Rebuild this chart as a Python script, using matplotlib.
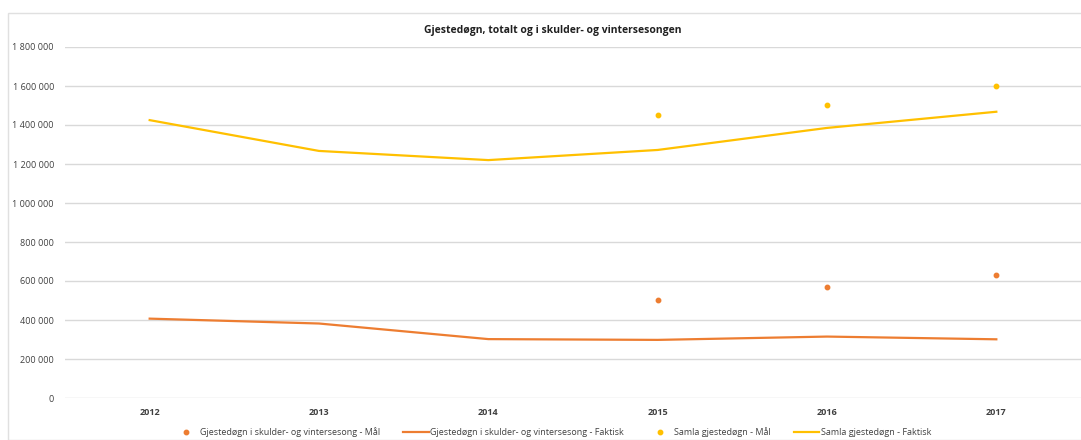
import matplotlib
matplotlib.use("Agg")
import matplotlib.pyplot as plt
from matplotlib.lines import Line2D
from matplotlib.patches import Rectangle
from matplotlib.ticker import FuncFormatter

years = ["2012", "2013", "2014", "2015", "2016", "2017"]
skulder_faktisk = [407000, 382000, 302000, 298000, 315000, 301000]
skulder_maal = [None, None, None, 505000, 568000, 632000]
samla_faktisk = [1425000, 1267000, 1220000, 1272000, 1385000, 1468000]
samla_maal = [None, None, None, 1450000, 1500000, 1600000]
yticks = [0, 200000, 400000, 600000, 800000, 1000000, 1200000, 1400000, 1600000, 1800000]

title = "Gjestedøgn, totalt og i skulder- og vintersesongen"
labels = ["Gjestedøgn i skulder- og vintersesong - Mål",
          "Gjestedøgn i skulder- og vintersesong - Faktisk",
          "Samla gjestedøgn - Mål",
          "Samla gjestedøgn - Faktisk"]

ORANGE = "#ED7D31"
YELLOW = "#FFC000"
GRID = "#D9D9D9"
TXT = "#404040"

plt.rcParams['font.family'] = ['Open Sans', 'DejaVu Sans']

fig = plt.figure(figsize=(10.81, 4.40), dpi=100)
fig.patches.append(Rectangle((8/1081, 0.0), 1.2, 1 - 13/440, transform=fig.transFigure,
                             fill=False, edgecolor="#E0E0E0", linewidth=1.0))
ax = fig.add_axes([65/1081, 1 - 398/440, 1 - 65/1081, (398 - 47)/440])

x = list(range(len(years)))

def pts(vals):
    xs = [i for i, v in zip(x, vals) if v is not None]
    ys = [v for v in vals if v is not None]
    return xs, ys

MS = 3.2
xs, ys = pts(skulder_maal)
ax.plot(xs, ys, linestyle="none", marker="o", markersize=MS, color=ORANGE, zorder=3)
ax.plot(x, skulder_faktisk, color=ORANGE, linewidth=1.6, zorder=3)
xs, ys = pts(samla_maal)
ax.plot(xs, ys, linestyle="none", marker="o", markersize=MS, color=YELLOW, zorder=3)
ax.plot(x, samla_faktisk, color=YELLOW, linewidth=1.6, zorder=3)

ax.set_xlim(-0.5, 5.5)
ax.set_ylim(0, 1800000)
ax.set_yticks(yticks)
ax.yaxis.set_major_formatter(FuncFormatter(lambda v, p: f"{int(v):,}".replace(",", " ")))
ax.set_xticks(x)
ax.set_xticklabels(years)
for s in ax.spines.values():
    s.set_visible(False)
ax.grid(axis="y", color=GRID, linewidth=1.0)
ax.set_axisbelow(True)
ax.tick_params(axis="both", length=0, labelsize=6.5, colors=TXT)
ax.tick_params(axis="x", pad=7)
ax.tick_params(axis="y", pad=8)
for t in ax.get_xticklabels():
    t.set_fontweight("bold")

fig.text(553/1081, 1 - 30/440, title, ha="center", va="center", fontsize=7.5,
         fontweight="bold", color="#202020")

handles = [Line2D([], [], linestyle="none", marker="o", markersize=MS, color=ORANGE),
           Line2D([], [], color=ORANGE, linewidth=1.6),
           Line2D([], [], linestyle="none", marker="o", markersize=MS, color=YELLOW),
           Line2D([], [], color=YELLOW, linewidth=1.6)]
fig.legend(handles, labels, loc="center", bbox_to_anchor=(552/1081, 1 - 432/440), ncol=4,
           frameon=False, fontsize=6.5, handlelength=2.8, handletextpad=0.15,
           columnspacing=2.6, labelcolor=TXT)

fig.savefig("out.png", dpi=100)
